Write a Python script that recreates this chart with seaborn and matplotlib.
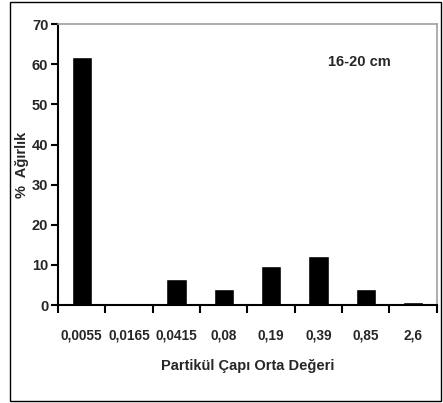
import matplotlib
matplotlib.use("Agg")
import matplotlib.pyplot as plt
import numpy as np
import pandas as pd
import seaborn as sns
from matplotlib.patches import Rectangle

sns.set_theme(style="white")
plt.rcParams["font.family"] = ["Liberation Sans Narrow", "Liberation Sans", "DejaVu Sans"]
plt.rcParams["font.weight"] = "bold"

# values
diameters = ["0,0055", "0,0165", "0,0415", "0,08", "0,19", "0,39", "0,85", "2,6"]
weight_pct = [61.7, 0.0, 6.5, 4.0, 9.7, 12.2, 4.0, 0.7]

df = pd.DataFrame({"diameter": diameters, "weight": weight_pct})

fig = plt.figure(figsize=(4.43, 4.03), dpi=100)
ax = fig.add_axes([0.131, 0.243, 0.855, 0.697])

sns.barplot(data=df, x="diameter", y="weight", color="black", width=0.43,
            saturation=1, ax=ax)

ax.set_xlim(-0.5, len(diameters) - 0.5)
ax.set_ylim(0, 70)
ax.set_yticks(np.arange(0, 71, 10))
ax.set_yticklabels([str(v) for v in range(0, 71, 10)], fontsize=10.5, fontweight="bold")

ax.set_xticks(range(len(diameters)))
ax.set_xticklabels(diameters, fontsize=9.8, fontweight="bold")
ax.set_xticks(np.arange(-0.5, len(diameters), 1), minor=True)
ax.tick_params(axis="x", which="major", length=0, pad=17)
ax.tick_params(axis="x", which="minor", length=6, width=1.5, color="black", bottom=True)
ax.tick_params(axis="y", length=5, width=1.5, color="black", left=True, pad=2)

for side in ("left", "bottom"):
    ax.spines[side].set_color("black")
    ax.spines[side].set_linewidth(1.5)
for side in ("top", "right"):
    ax.spines[side].set_color("#a0a0a0")
    ax.spines[side].set_linewidth(1.2)

ax.set_xlabel("Partikül Çapı Orta Değeri", fontsize=10.5, fontweight="bold", labelpad=12)
ax.set_ylabel("%  Ağırlık", fontsize=10.5, fontweight="bold", labelpad=2)

ax.text(5.87, 60.6, "16-20 cm", fontsize=10.5, fontweight="bold", ha="center", va="center")

fig.patches.append(Rectangle((10 / 443, 2 / 403), 431 / 443, 399 / 403,
                             transform=fig.transFigure, fill=False,
                             edgecolor="black", linewidth=1.0))

fig.savefig("out.png", dpi=100)
